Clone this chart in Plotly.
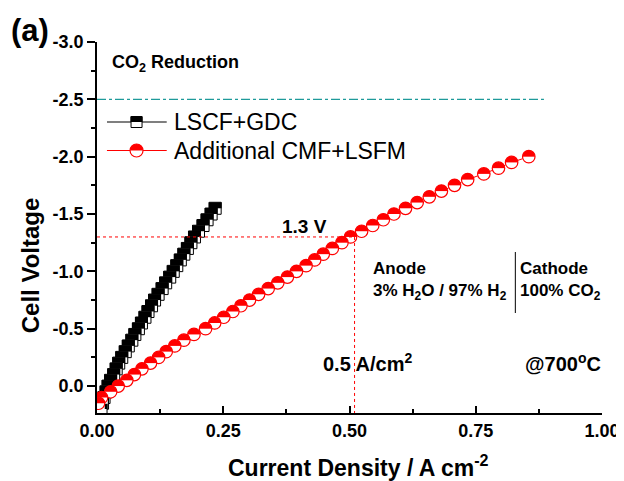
import plotly.graph_objects as go

# ---------------- data ----------------
lscf_voltage = [0.20, 0.15, 0.10, 0.05, 0.00, -0.05, -0.10, -0.15, -0.20, -0.25,
                -0.30, -0.35, -0.40, -0.45, -0.50, -0.55, -0.60, -0.65, -0.70, -0.75,
                -0.80, -0.85, -0.90, -0.95, -1.00, -1.05, -1.10, -1.15, -1.20, -1.25,
                -1.30, -1.35, -1.40, -1.45, -1.50, -1.55]
lscf_current = [0.008, 0.011, 0.014, 0.018, 0.022, 0.027, 0.033, 0.038, 0.043, 0.049,
                0.056, 0.062, 0.069, 0.075, 0.082, 0.088, 0.095, 0.101, 0.108, 0.114,
                0.121, 0.129, 0.136, 0.144, 0.151, 0.158, 0.165, 0.172, 0.179, 0.186,
                0.193, 0.201, 0.210, 0.218, 0.226, 0.234]

cmf_voltage = [0.15, 0.10, 0.05, 0.00, -0.05, -0.10, -0.15, -0.20, -0.25, -0.30,
               -0.35, -0.40, -0.45, -0.50, -0.55, -0.60, -0.65, -0.70, -0.75, -0.80,
               -0.85, -0.90, -0.95, -1.00, -1.05, -1.10, -1.15, -1.20, -1.25, -1.30,
               -1.35, -1.40, -1.45, -1.50, -1.55, -1.60, -1.65, -1.70, -1.75, -1.80,
               -1.85, -1.90, -1.95, -2.00]
cmf_current = [0.003, 0.009, 0.027, 0.042, 0.059, 0.074, 0.089, 0.106, 0.122, 0.137,
               0.154, 0.172, 0.192, 0.215, 0.233, 0.251, 0.269, 0.285, 0.302, 0.320,
               0.339, 0.358, 0.377, 0.395, 0.414, 0.431, 0.448, 0.466, 0.485, 0.502,
               0.524, 0.546, 0.567, 0.588, 0.611, 0.634, 0.658, 0.682, 0.708, 0.734,
               0.766, 0.795, 0.821, 0.855]

series_names = ["LSCF+GDC", "Additional CMF+LSFM"]

y_tick_vals = [-3.0, -2.5, -2.0, -1.5, -1.0, -0.5, 0.0]
y_tick_text = ["-3.0", "-2.5", "-2.0", "-1.5", "-1.0", "-0.5", "0.0"]
x_tick_vals = [0.0, 0.25, 0.50, 0.75, 1.00]
x_tick_text = ["0.00", "0.25", "0.50", "0.75", "1.00"]

ref_voltage = -1.3      # "1.3 V" guide
ref_current = 0.51      # "0.5 A/cm2" guide
limit_voltage = -2.5    # dash-dot limit line
limit_line_end = 0.885

# ---------------- layout constants ----------------
W, H = 624, 481
PAGE_OFFSET = 8                 # default body margin of the html page
PX0, PX1 = 97, 604              # plot area on screen (pixels)
PY0, PY1 = 42, 413
ML = PX0 - PAGE_OFFSET
MT = PY0 - PAGE_OFFSET
MR = W - ML - (PX1 - PX0)
MB = H - MT - (PY1 - PY0)
Y_RANGE = [0.235, -3.0]
X_RANGE = [0.0, 1.0]

FONT = "Liberation Sans, Arial, Helvetica, sans-serif"
RED = "#ff0000"
TEAL = "#1f9a9a"

UP = 180     # marker angle so that standoff moves the marker upward
DOWN = 0     # marker angle so that standoff moves the marker downward

fig = go.Figure()


def half_square(xv, yv, size, xa="x", ya="y"):
    fig.add_trace(go.Scatter(
        x=[xv], y=[yv], mode="markers", xaxis=xa, yaxis=ya,
        marker=dict(symbol="square", size=size, color="white",
                    line=dict(color="black", width=1)),
        showlegend=False, hoverinfo="skip"))
    fig.add_trace(go.Scatter(
        x=[xv], y=[yv], mode="markers", xaxis=xa, yaxis=ya,
        marker=dict(symbol="line-ew", size=(size + 1) / 1.4, color="black",
                    angle=UP, standoff=size / 4,
                    line=dict(color="black", width=size / 2)),
        showlegend=False, hoverinfo="skip"))


def half_circle(xv, yv, size, xa="x", ya="y"):
    fig.add_trace(go.Scatter(
        x=[xv], y=[yv], mode="markers", xaxis=xa, yaxis=ya,
        marker=dict(symbol="circle", size=size, color=RED,
                    line=dict(color=RED, width=0)),
        showlegend=False, hoverinfo="skip"))
    fig.add_trace(go.Scatter(
        x=[xv], y=[yv], mode="markers", xaxis=xa, yaxis=ya,
        marker=dict(symbol="line-ew", size=size / 1.4, color="white",
                    angle=DOWN, standoff=size / 4,
                    line=dict(color="white", width=size / 2)),
        showlegend=False, hoverinfo="skip"))
    fig.add_trace(go.Scatter(
        x=[xv], y=[yv], mode="markers", xaxis=xa, yaxis=ya,
        marker=dict(symbol="circle-open", size=size, color=RED,
                    line=dict(color=RED, width=1.2)),
        showlegend=False, hoverinfo="skip"))


# connecting lines
fig.add_trace(go.Scatter(x=lscf_current, y=lscf_voltage, mode="lines",
                         line=dict(color="black", width=1),
                         showlegend=False, hoverinfo="skip"))
fig.add_trace(go.Scatter(x=cmf_current, y=cmf_voltage, mode="lines",
                         line=dict(color=RED, width=1),
                         showlegend=False, hoverinfo="skip"))

# markers, drawn point by point (high-current end first, as in the original sweep)
for xv, yv in reversed(list(zip(lscf_current, lscf_voltage))):
    half_square(xv, yv, 12)
for xv, yv in reversed(list(zip(cmf_current, cmf_voltage))):
    half_circle(xv, yv, 12.5)

# ---------------- hand-made legend (pixel overlay axes) ----------------
legend_rows = [122, 150.5]
for row_y, col in zip(legend_rows, ["black", RED]):
    fig.add_trace(go.Scatter(x=[107, 167], y=[row_y, row_y], mode="lines",
                             xaxis="x2", yaxis="y2",
                             line=dict(color=col, width=1.2),
                             showlegend=False, hoverinfo="skip"))
half_square(136.7, legend_rows[0], 11, "x2", "y2")
half_circle(136.7, legend_rows[1], 13, "x2", "y2")

annotations = []


def px_to_paper(sx, sy):
    return (sx - PX0) / (PX1 - PX0), (PY1 - sy) / (PY1 - PY0)


def label(text, sx, sy, size, bold=True, xanchor="left", yanchor="middle", angle=0):
    xp, yp = px_to_paper(sx, sy)
    annotations.append(dict(
        text=text, x=xp, y=yp, xref="paper", yref="paper", showarrow=False,
        xanchor=xanchor, yanchor=yanchor, textangle=angle,
        font=dict(family=FONT, size=size, color="black",
                  weight="bold" if bold else "normal")))


for name, row_y in zip(series_names, legend_rows):
    label(name, 172, row_y, 23, bold=False)

label("(a)", 30, 30, 31, xanchor="center")
label("CO<sub>2</sub> Reduction", 110, 63, 18)
label("1.3 V", 281, 226, 19)
label("Anode", 372, 268, 17)
label("3% H<sub>2</sub>O / 97% H<sub>2</sub>", 372, 292, 17)
label("Cathode", 520, 268, 17)
label("100% CO<sub>2</sub>", 520, 292, 17)
label("0.5 A/cm<sup>2</sup>", 322, 362, 20)
label("@700<sup>o</sup>C", 525, 362, 20)
label("Cell Voltage", 30, 265, 24, xanchor="center", angle=-90)
label("Current Density / A cm<sup>-2</sup>", 360, 466, 23, xanchor="center")

shapes = [
    dict(type="line", xref="x", yref="y", x0=0, x1=limit_line_end,
         y0=limit_voltage, y1=limit_voltage,
         line=dict(color=TEAL, width=1.2, dash="dashdot")),
    dict(type="line", xref="x", yref="y", x0=0, x1=ref_current,
         y0=ref_voltage, y1=ref_voltage,
         line=dict(color=RED, width=1, dash="dot")),
    dict(type="line", xref="x", yref="y", x0=ref_current, x1=ref_current,
         y0=ref_voltage, y1=Y_RANGE[0],
         line=dict(color=RED, width=1, dash="dot")),
    dict(type="line", xref="x2", yref="y2", x0=517, x1=517, y0=252, y1=313,
         line=dict(color="black", width=1)),
]

tick_font = dict(family=FONT, size=18, color="black", weight="bold")

fig.update_layout(
    width=W, height=H,
    margin=dict(l=ML, r=MR, t=MT, b=MB, pad=0),
    paper_bgcolor="white", plot_bgcolor="white",
    font=dict(family=FONT, color="black"),
    showlegend=False,
    annotations=annotations,
    shapes=shapes,
    xaxis=dict(
        range=X_RANGE, showgrid=False, zeroline=False,
        showline=True, linecolor="black", linewidth=1.5,
        tickmode="array", tickvals=x_tick_vals, ticktext=x_tick_text,
        ticks="inside", ticklen=7, tickwidth=1.5, tickcolor="black",
        ticklabelstandoff=1, tickfont=tick_font,
        minor=dict(tickmode="linear", tick0=0, dtick=0.125, ticks="inside",
                   ticklen=4, tickwidth=1.5, tickcolor="black", showgrid=False),
    ),
    yaxis=dict(
        range=Y_RANGE, showgrid=False, zeroline=False,
        showline=True, linecolor="black", linewidth=1.5,
        tickmode="array", tickvals=y_tick_vals, ticktext=y_tick_text,
        ticks="outside", ticklen=8, tickwidth=1.5, tickcolor="black",
        tickfont=tick_font,
        minor=dict(tickmode="linear", tick0=0, dtick=0.25, ticks="outside",
                   ticklen=4, tickwidth=1.5, tickcolor="black", showgrid=False),
    ),
    xaxis2=dict(range=[PX0, PX1], overlaying="x", anchor="y2", visible=False,
                fixedrange=True),
    yaxis2=dict(range=[PY1, PY0], overlaying="y", anchor="x2", visible=False,
                fixedrange=True),
)

fig.write_html("out.html")
